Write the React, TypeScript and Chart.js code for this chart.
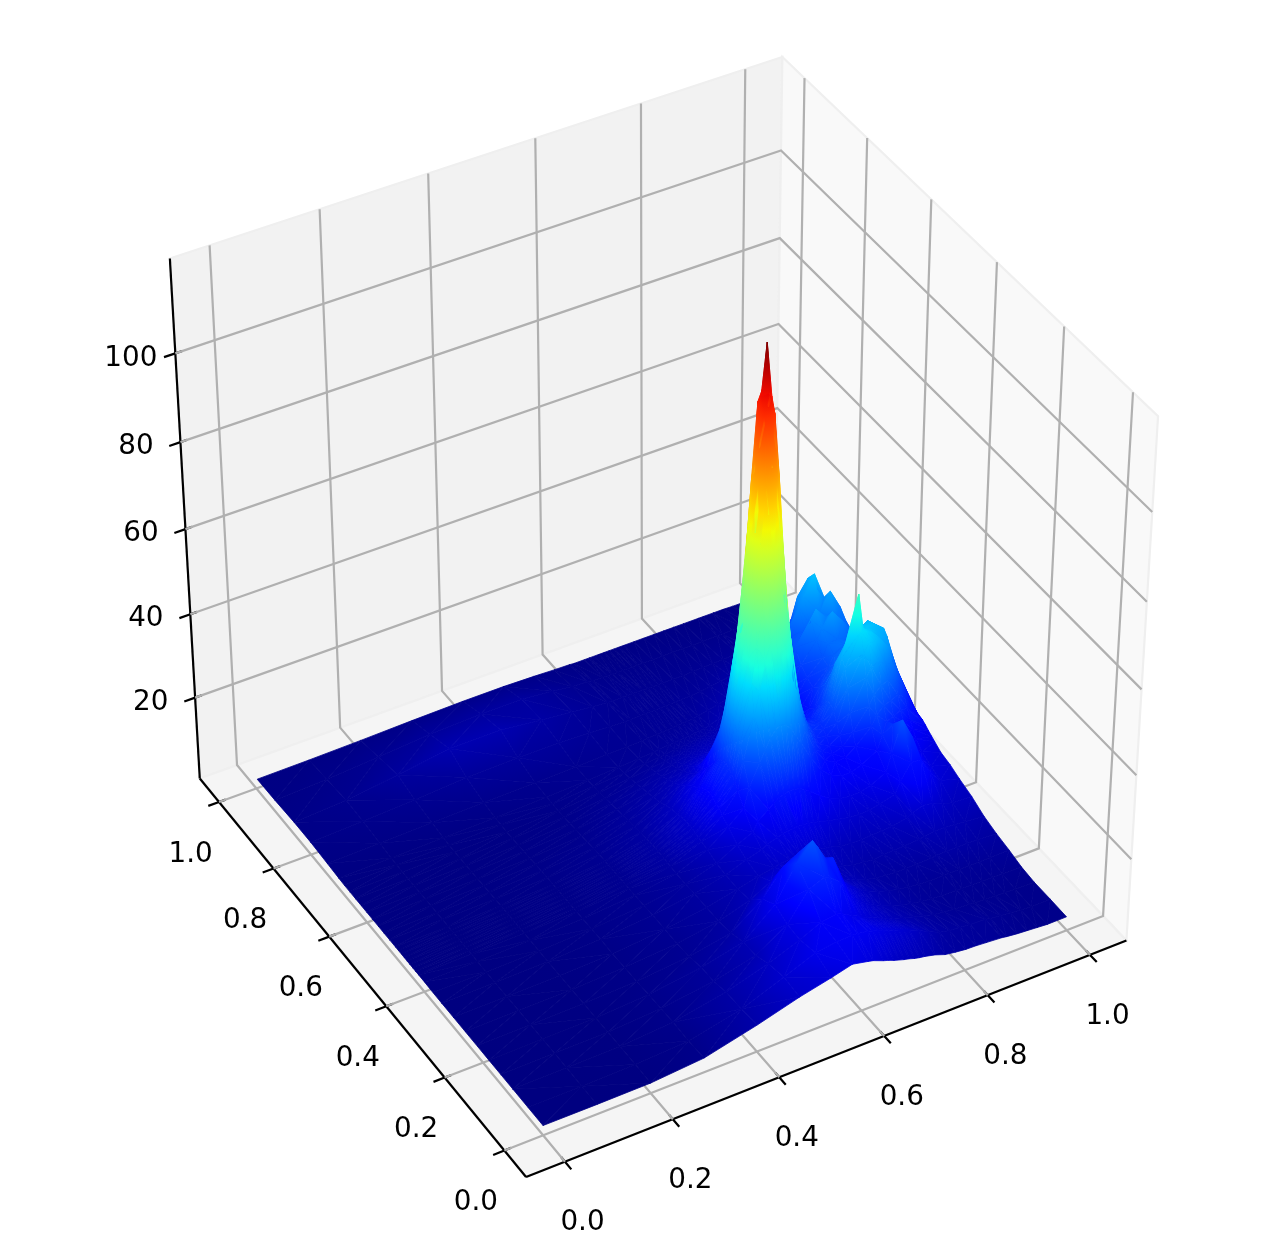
import { useEffect, useRef } from "react";
import Chart from "chart.js/auto";

const W = 1280;
const H = 1247;

// Camera and box of the 3D axes
const elevDeg = 40;
const azimDeg = -120;
const camDist = 10;
const pxPerUnitX = 7000;
const pxPerUnitY = 6810;
const originX = 656.8;
const originY = 605.7;
const xyLo = 0.0626;
const xyHi = 0.9372;
const zLo = 0.22;
const zHi = 120.9;
const surfaceLift = 0.7;
const colorMin = 1.9;
const colorMax = 114.4;

const xTicks = [0, 0.2, 0.4, 0.6, 0.8, 1];
const yTicks = [0, 0.2, 0.4, 0.6, 0.8, 1];
const zTicks = [20, 40, 60, 80, 100];

const gridX = [0, 0.1, 0.2, 0.3, 0.4, 0.48, 0.54, 0.58, 0.61, 0.62, 0.64, 0.65, 0.66, 0.67, 0.68, 0.69, 0.7, 0.71, 0.72, 0.74, 0.76, 0.78, 0.8, 0.82, 0.84, 0.87, 0.88, 0.9, 0.92, 0.94, 0.96, 0.998];
const gridY = [0, 0.05, 0.1, 0.14, 0.18, 0.22, 0.26, 0.3, 0.34, 0.37, 0.4, 0.42, 0.43, 0.44, 0.45, 0.46, 0.47, 0.48, 0.49, 0.5, 0.52, 0.54, 0.56, 0.58, 0.6, 0.62, 0.64, 0.66, 0.68, 0.7, 0.74, 0.8, 0.86, 0.93, 0.995];

const surfaceZ = [
  [1.9,1.9,2,3,6,8.8,10.5,11.8,11,10.7,9.7,9.3,8.8,8.4,8,7.7,7.3,7,6.8,6.2,5.3,4.9,4.6,4.5,4.3,4,3.8,3.5,3.3,3.1,2.9,2.9],
  [1.9,1.9,2.1,2.8,5.6,9.4,12.3,13,13.1,13,12.6,12.2,11.8,11.3,10.9,10.4,10,9.5,9,7.9,6.6,5.5,5,4.8,4.5,4.3,4,3.8,3.5,3.2,3,3],
  [1.9,2,2.1,3,5.4,8.4,11.2,13.5,14,13.6,12.2,11.8,10.8,10.2,9.7,9.2,8.6,8.2,7.6,6.8,6,5.3,4.7,4.3,4,3.8,3.6,3.5,3.4,3.3,3.1,3],
  [1.9,2,2.1,2.9,4.6,7,11.5,18,19.5,19,17,15,12.6,11.3,10.2,9.3,8.6,8,7.4,6.4,5.6,5,4.5,4.2,4,3.9,3.8,3.8,3.7,3.6,3.5,3.4],
  [1.9,2,2.1,2.9,4.5,6.8,13,21,25,23,18.5,19,16,12.5,11,10,9,8.2,7.6,6.5,5.7,5.1,4.7,4.4,4.2,4.2,4.2,4.2,4.2,4.2,4.2,4.3],
  [1.9,2,2.2,2.7,3.8,5.6,11,17,19,18,16,14,12.3,10.7,9.7,9,8.1,7.6,7.1,6.1,5.5,5.2,5,5,5,5.1,5.3,5.4,5.4,5.4,5.3,5],
  [1.9,2,2.1,2.7,3.6,5.1,7.4,10,11,10.6,9.7,9.4,9.1,8.7,8.4,7.9,7.7,7.3,7,6.4,6,5.7,6,6.1,6.2,6.4,6.7,6.95,6.9,6.7,6.45,6],
  [1.9,2,2.2,2.6,3.7,5.1,6.7,7.9,8.6,9,9.2,9.3,9.3,9.2,9.2,9,8.8,8.6,8.4,7.6,7.4,7.3,7.4,7.5,7.65,8.4,9.1,10,9.6,8.5,7.8,7.6],
  [1.9,2,2.2,2.7,3.7,5.1,6.9,8.6,9.7,10.5,11.2,11.6,11.8,11.9,12,11.9,11.8,11.5,11.2,10.5,10,9.4,9.2,9.3,9.9,10.9,13.5,17.2,16.9,12.7,10,8.7],
  [1.9,2,2.2,2.7,3.6,5,7.2,9.8,11.4,13.6,15.6,16.5,17.4,17.8,18.2,18,17.8,17.1,16.2,14.2,12.6,11.6,11.2,11.3,12,13.8,17.8,25,20.1,13.8,11.1,9.7],
  [2,2,2.3,2.7,3.6,5.1,8,11.7,14.8,19.3,24.4,26.9,29.4,30.8,31.8,31,29.8,27.5,25.4,20.9,17.1,14.8,13.7,13.7,14.6,16.7,20.1,21.6,17.2,13.9,12.2,10.3],
  [2,2.1,2.3,2.7,3.6,5.2,8.4,12.9,17.4,24,34,39,46,50,52.6,50.7,46.8,40,35,25.9,20.2,16.8,15.5,15.7,17.4,20.9,23.2,20.7,18.3,16,13.7,11.3],
  [2,2.1,2.3,2.7,3.6,5.3,8.6,13.8,18.8,27,41,49,58,65.5,69,66,59,50,42,29,22,18.2,16.7,17.4,20,25,27.3,23.7,20.3,18,15.2,11.8],
  [2,2.1,2.3,2.7,3.6,5.4,8.8,14,19.8,29,46,58,72,84,89,84.5,73,59,47.5,31.4,23,19,18,19.5,24,31,33,27.8,23.3,20,16.7,12.3],
  [2,2.1,2.3,2.7,3.6,5.4,9,14.6,20.5,31,50.5,66,84,99,104,99,84.5,67,52,33.4,24.3,20,19.3,21.6,29,36,38,32.8,27.4,23,18.8,12.9],
  [2,2.1,2.3,2.7,3.6,5.5,9.1,14.9,20.9,32,53,70,89,103,114.4,102,90,71,54,34.5,25,20.9,20.4,23.6,33,40.5,40,36.8,30.4,26,20.8,13.4],
  [2,2.1,2.3,2.7,3.6,5.5,9.1,14.8,20.6,31.2,51,66.5,84.5,101,104,99,85,67.5,52.5,33.9,24.9,21.1,20.8,24.6,35,48.5,40,38,35,29,22.8,13.4],
  [2,2.1,2.3,2.7,3.6,5.5,9,14.4,20.2,29.5,46.5,58.5,72.5,84.5,89.5,85,73.5,60,48.5,32.4,24.4,20.7,20.6,24.5,34,39.5,39,38,35.3,32,24.7,13.8],
  [2,2.1,2.3,2.7,3.6,5.4,8.8,14,19,27.4,41.5,49.5,58.5,66,69.5,66.5,59.5,50.5,43,30.3,23.5,20.4,20.3,23.4,32,38,38,38,36,34,25.7,14.3],
  [2,2.1,2.3,2.7,3.6,5.3,8.5,13,17.6,24.3,34.3,39.5,46.5,50.5,53,51,47.2,40.5,35.5,27.4,22.2,19.6,19.5,22.2,29,35,36.5,37.5,37,35,25.7,14.3],
  [2,2.1,2.3,2.7,3.6,5.2,8.1,11.9,15,19.6,24.7,27.2,29.8,31.2,32.2,31.5,30.4,28,26,22.9,19.5,18,18.2,19.7,24.6,29.7,32.1,34.6,36.2,31.9,23.7,14.3],
  [2,2.1,2.3,2.7,3.5,5,7.4,10.4,12.6,15.4,18.3,19.7,21.2,22,22.4,22.3,21.9,20.8,19.9,18.3,16.9,16.2,16.7,18.1,22.2,26.5,27.9,30.5,31.1,27.8,21.6,14.3],
  [2,2.1,2.3,2.6,3.4,4.8,6.6,8.9,10.2,11.9,13.6,14.2,15,15.6,16,16,15.8,15.4,15.2,15.1,14.6,14.9,15.8,17.4,20.7,24.2,26.7,28.3,28,25.8,20.6,14.7],
  [2,2.1,2.2,2.5,3.2,4.6,6.1,7.8,8.8,9.8,10.8,11.3,11.7,12,12.2,12.3,12.3,12.2,12.1,13.2,13.6,14.4,15.6,17.9,21.4,24.9,28,28,27,25.7,20.5,15.2],
  [2,2.1,2.2,2.5,3.1,4.3,5.6,6.9,7.6,8.4,9.1,9.5,9.8,10,10.2,10.4,10.6,10.9,11,11.7,12.5,14,16,18.4,23,27.6,30,33,30,26.6,20.4,15.1],
  [2,2.1,2.2,2.4,3,4.1,5.2,6.1,6.7,7.2,7.8,8,8.2,8.4,8.6,8.9,9.2,9.5,9.9,10.6,11.7,13.7,16.4,20,25.6,31,33,30,29,27.5,21.3,15.1],
  [2,2.1,2.2,2.4,2.9,3.8,4.7,5.5,6,6.4,6.8,7,7.2,7.4,7.6,7.8,8,8.4,8.7,9.5,10.7,12.8,15.9,19.6,25.3,27,28,30,34,29.4,21.2,14],
  [2,2.1,2.2,2.4,2.8,3.6,4.3,4.9,5.3,5.6,5.9,6.1,6.3,6.5,6.7,6.8,7,7.3,7.6,8.5,9.7,11.7,14.5,18.3,24.1,30.9,33,37.5,31,27.3,20.2,13],
  [2,2.1,2.3,2.5,2.9,3.5,4,4.4,4.7,4.9,5.1,5.2,5.4,5.5,5.7,5.8,6,6.3,6.5,7.6,8.5,10.3,13.2,16,20.8,26.7,31.5,35,30.3,23.2,17.1,11.9],
  [2.1,2.2,2.4,2.6,3,3.4,3.8,4.1,4.3,4.5,4.7,4.8,4.9,5,5.1,5.2,5.4,5.5,5.9,6.7,7.3,9,10.9,13.8,16.6,20.5,24.4,27.3,23.2,18.1,14,9.9],
  [2.3,2.5,2.8,3.1,3.3,3.5,3.7,3.8,3.9,4,4.1,4.2,4.2,4.3,4.4,4.5,4.6,4.7,4.9,5.4,5.9,6.5,7.4,9,10.4,12.2,13.2,14.1,13,11,8.9,7.3],
  [2.6,3,3.6,4.4,4.6,4.5,4.2,3.9,3.8,3.8,3.8,3.9,3.9,3.9,4,4,4,4.1,4.2,4.2,4.4,4.7,5.1,5.5,6,6.5,6.9,6.9,6.5,5.9,5.3,4.7],
  [2.6,3.3,4.8,6.6,6.6,5.4,4.6,4.1,3.8,3.7,3.7,3.7,3.7,3.7,3.6,3.6,3.6,3.6,3.6,3.6,3.6,3.7,3.8,3.9,4,4.1,4.2,4.1,4,3.8,3.5,3.2],
  [2.3,2.8,3.6,4.6,5,5,4.2,3.6,3.4,3.2,3.1,3.1,3,3,3,3,3,3,3,3,3,3,3,3,3,3.1,3.1,3.1,3,2.9,2.8,2.7],
  [2.2,2.3,2.5,2.8,3,3,2.8,2.6,2.5,2.4,2.4,2.4,2.4,2.4,2.4,2.4,2.4,2.4,2.4,2.4,2.4,2.4,2.4,2.4,2.4,2.4,2.4,2.4,2.4,2.3,2.3,2.2],
];

type P3 = { x: number; y: number; depth: number; z?: number };

const elev = (elevDeg * Math.PI) / 180;
const azim = (azimDeg * Math.PI) / 180;
const w = [Math.cos(elev) * Math.cos(azim), Math.cos(elev) * Math.sin(azim), Math.sin(elev)];
const uLen = Math.hypot(w[1], w[0]);
const u = [-w[1] / uLen, w[0] / uLen, 0];
const v = [w[1] * u[2] - w[2] * u[1], w[2] * u[0] - w[0] * u[2], w[0] * u[1] - w[1] * u[0]];

// a, b, c: position inside the box, each 0..1
function projectBox(a: number, b: number, c: number): P3 {
  const p = [a - 0.5, b - 0.5, c - 0.5];
  const dot = (q: number[]) => q[0] * p[0] + q[1] * p[1] + q[2] * p[2];
  const depth = camDist - dot(w);
  return { x: dot(u) / depth, y: dot(v) / depth, depth };
}
const fx = (x: number) => xyLo + x * (xyHi - xyLo);
const fz = (z: number) => (z - zLo) / (zHi - zLo);

function jetChannel(t: number, stops: number[][]) {
  for (let i = 1; i < stops.length; i++) {
    if (t <= stops[i][0]) {
      const [a, va] = stops[i - 1];
      const [b, vb] = stops[i];
      return va + ((vb - va) * (t - a)) / (b - a);
    }
  }
  return stops[stops.length - 1][1];
}
const jetR = [[0, 0], [0.35, 0], [0.66, 1], [0.89, 1], [1, 0.5]];
const jetG = [[0, 0], [0.125, 0], [0.375, 1], [0.64, 1], [0.91, 0], [1, 0]];
const jetB = [[0, 0.5], [0.11, 1], [0.34, 1], [0.65, 0], [1, 0]];
function jet(z: number) {
  const t = Math.max(0, Math.min(1, (z - colorMin) / (colorMax - colorMin)));
  const r = Math.round(255 * jetChannel(t, jetR));
  const g = Math.round(255 * jetChannel(t, jetG));
  const b = Math.round(255 * jetChannel(t, jetB));
  return `rgb(${r},${g},${b})`;
}

const surfaceIndex = 3;

const polygonPlugin = {
  id: "panes",
  beforeDatasetsDraw(chart: any) {
    const { ctx } = chart;
    chart.data.datasets.forEach((ds: any, i: number) => {
      if (!ds.paneFill) return;
      const pts = chart.getDatasetMeta(i).data;
      ctx.save();
      ctx.beginPath();
      pts.forEach((p: any, k: number) => (k ? ctx.lineTo(p.x, p.y) : ctx.moveTo(p.x, p.y)));
      ctx.closePath();
      ctx.fillStyle = ds.paneFill;
      ctx.fill();
      ctx.strokeStyle = ds.paneEdge;
      ctx.lineWidth = 2.2;
      ctx.stroke();
      ctx.restore();
    });
  },
};

function trianglePaint(ctx: any, a: any, b: any, c: any, za: number, zb: number, zc: number) {
  const dx1 = b.x - a.x;
  const dy1 = b.y - a.y;
  const dx2 = c.x - a.x;
  const dy2 = c.y - a.y;
  const dz1 = zb - za;
  const dz2 = zc - za;
  const det = dx1 * dy2 - dx2 * dy1;
  const mean = (za + zb + zc) / 3;
  if (Math.abs(det) < 0.02) return jet(mean);
  const ga = (dz1 * dy2 - dz2 * dy1) / det;
  const gb = (dx1 * dz2 - dx2 * dz1) / det;
  const n2 = ga * ga + gb * gb;
  if (n2 < 1e-9) return jet(mean);
  const lo = Math.min(za, zb, zc);
  const hi = Math.max(za, zb, zc);
  const start = lo === za ? a : lo === zb ? b : c;
  const k = (hi - lo) / n2;
  const g = ctx.createLinearGradient(start.x, start.y, start.x + ga * k, start.y + gb * k);
  const n = Math.max(1, Math.ceil((hi - lo) / 6));
  for (let s = 0; s <= n; s++) g.addColorStop(s / n, jet(lo + ((hi - lo) * s) / n));
  return g;
}

const surfacePlugin = {
  id: "surface",
  afterDatasetsDraw(chart: any) {
    const { ctx } = chart;
    const ds = chart.data.datasets[surfaceIndex];
    const pts = chart.getDatasetMeta(surfaceIndex).data;
    const nx = gridX.length;
    const ny = gridY.length;
    const tris: { ids: number[]; depth: number }[] = [];
    for (let j = 0; j < ny - 1; j++) {
      for (let i = 0; i < nx - 1; i++) {
        const a = j * nx + i;
        const b = a + 1;
        const c = (j + 1) * nx + i + 1;
        const d = (j + 1) * nx + i;
        const acDiag = Math.abs(ds.data[a].z - ds.data[c].z) <= Math.abs(ds.data[b].z - ds.data[d].z);
        const pair = acDiag ? [[a, b, c], [a, c, d]] : [[a, b, d], [b, c, d]];
        for (const ids of pair) {
          const depth = ids.reduce((s, k) => s + ds.data[k].depth, 0) / 3;
          tris.push({ ids, depth });
        }
      }
    }
    tris.sort((p, q) => q.depth - p.depth);
    ctx.save();
    ctx.lineJoin = "round";
    for (const t of tris) {
      const [i0, i1, i2] = t.ids;
      const paint = trianglePaint(ctx, pts[i0], pts[i1], pts[i2], ds.data[i0].z, ds.data[i1].z, ds.data[i2].z);
      ctx.beginPath();
      ctx.moveTo(pts[i0].x, pts[i0].y);
      ctx.lineTo(pts[i1].x, pts[i1].y);
      ctx.lineTo(pts[i2].x, pts[i2].y);
      ctx.closePath();
      ctx.fillStyle = paint;
      ctx.strokeStyle = paint;
      ctx.lineWidth = 0.8;
      ctx.fill();
      ctx.stroke();
    }
    ctx.restore();
  },
};

const labelPlugin = {
  id: "tickText",
  afterDraw(chart: any) {
    const { ctx } = chart;
    ctx.save();
    ctx.font = '27.8px "DejaVu Sans"';
    ctx.fillStyle = "#000";
    ctx.textAlign = "center";
    ctx.textBaseline = "middle";
    chart.data.datasets.forEach((ds: any, i: number) => {
      if (!ds.tickText) return;
      const p = chart.getDatasetMeta(i).data[1];
      ctx.fillText(ds.tickText, p.x + ds.textDx, p.y + ds.textDy);
    });
    ctx.restore();
  },
};

function buildDatasets() {
  const base = { showLine: true, pointRadius: 0, pointHoverRadius: 0, clip: false, fill: false, tension: 0 };
  const poly = (pts: number[][], paneFill: string) => ({
    ...base,
    showLine: false,
    paneFill,
    paneEdge: "#efefef",
    data: pts.map((p) => projectBox(p[0], p[1], p[2])),
  });
  const sets: any[] = [
    poly([[0, 1, 0], [1, 1, 0], [1, 1, 1], [0, 1, 1]], "#f2f2f2"),
    poly([[1, 0, 0], [1, 1, 0], [1, 1, 1], [1, 0, 1]], "#f9f9f9"),
    poly([[0, 0, 0], [1, 0, 0], [1, 1, 0], [0, 1, 0]], "#f5f5f5"),
  ];
  const surfacePts: P3[] = [];
  gridY.forEach((y, j) =>
    gridX.forEach((x, i) => {
      const z = surfaceZ[j][i];
      surfacePts.push({ ...projectBox(fx(x), fx(y), fz(z + surfaceLift)), z });
    })
  );
  sets.push({ ...base, showLine: false, data: surfacePts });

  const line = (pts: number[][], color: string) => ({
    ...base,
    borderColor: color,
    borderWidth: 2.2,
    data: pts.map((p) => projectBox(p[0], p[1], p[2])),
  });
  const gridColor = "#b0b0b0";
  xTicks.forEach((t) => sets.push(line([[fx(t), 0, 0], [fx(t), 1, 0], [fx(t), 1, 1]], gridColor)));
  yTicks.forEach((t) => sets.push(line([[0, fx(t), 0], [1, fx(t), 0], [1, fx(t), 1]], gridColor)));
  zTicks.forEach((t) => sets.push(line([[0, 1, fz(t)], [1, 1, fz(t)], [1, 0, fz(t)]], gridColor)));

  sets.push(line([[0, 0, 0], [1, 0, 0]], "#000"));
  sets.push(line([[0, 0, 0], [0, 1, 0]], "#000"));
  sets.push(line([[0, 1, 0], [0, 1, 1]], "#000"));

  const out = 0.018;
  const inn = 0.011;
  xTicks.forEach((t) =>
    sets.push({ ...line([[fx(t), -out, 0], [fx(t), 0, 0], [fx(t), inn, 0]], "#000"), tickText: t.toFixed(1), textDx: 17.5, textDy: 61.5 })
  );
  yTicks.forEach((t) =>
    sets.push({ ...line([[-out, fx(t), 0], [0, fx(t), 0], [inn, fx(t), 0]], "#000"), tickText: t.toFixed(1), textDx: -28.5, textDy: 52.5 })
  );
  zTicks.forEach((t) =>
    sets.push({ ...line([[-out, 1, fz(t)], [0, 1, fz(t)], [inn, 1, fz(t)]], "#000"), tickText: String(t), textDx: -44.5, textDy: 5 })
  );
  return sets;
}

export default function App() {
  const ref = useRef<HTMLCanvasElement>(null);
  useEffect(() => {
    const chart = new Chart(ref.current as HTMLCanvasElement, {
      type: "scatter",
      data: { datasets: buildDatasets() },
      options: {
        animation: false,
        responsive: false,
        events: [],
        layout: { padding: 0 },
        plugins: { legend: { display: false }, tooltip: { enabled: false } },
        scales: {
          x: { type: "linear", display: false, min: -originX / pxPerUnitX, max: (W - originX) / pxPerUnitX },
          y: { type: "linear", display: false, min: (originY - H) / pxPerUnitY, max: originY / pxPerUnitY },
        },
      },
      plugins: [polygonPlugin, surfacePlugin, labelPlugin],
    } as any);
    return () => chart.destroy();
  }, []);
  return (
    <div style={{ position: "absolute", left: 0, top: 0, width: W, height: H, background: "#fff" }}>
      <canvas ref={ref} width={W} height={H} style={{ display: "block" }} />
    </div>
  );
}
